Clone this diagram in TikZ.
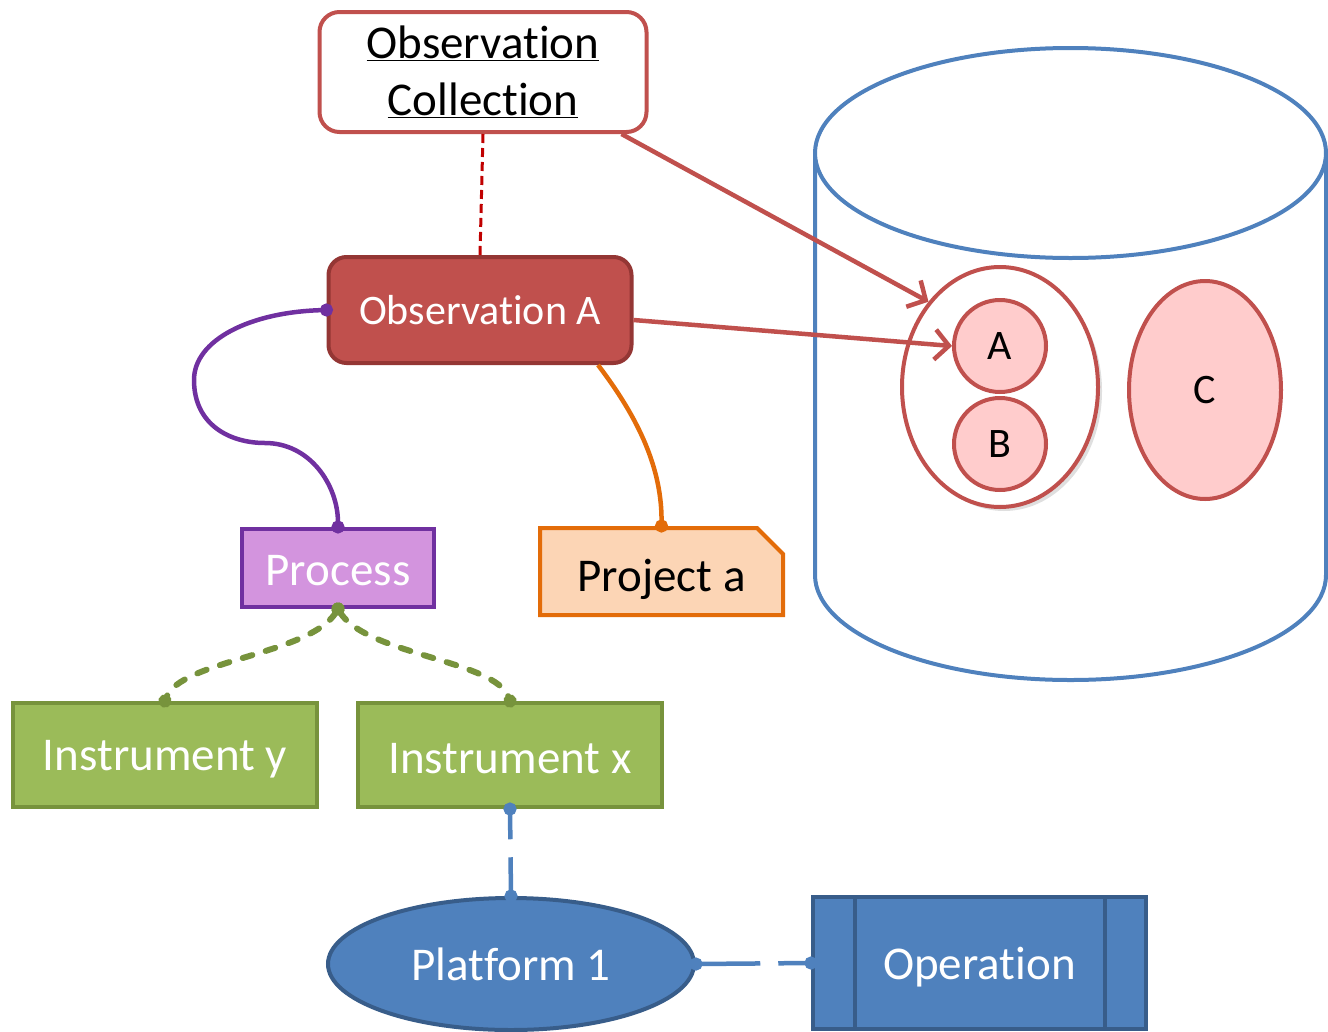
\documentclass[tikz,border=0pt]{standalone}
\usepackage{fontspec}
\setmainfont[Ligatures=NoCommon]{Carlito}
\usetikzlibrary{arrows.meta, shapes.geometric, shapes.misc, shadows}
\definecolor{obs_red}{HTML}{C0504D}
\definecolor{obs_dark}{HTML}{943634}
\definecolor{link_red}{HTML}{C00000}
\definecolor{set_pink}{HTML}{FFCCCC}
\definecolor{store_blue}{HTML}{4F81BD}
\definecolor{plat_dark}{HTML}{385D8A}
\definecolor{proc_purple}{HTML}{7030A0}
\definecolor{proc_fill}{HTML}{D394DE}
\definecolor{proj_orange}{HTML}{E36C09}
\definecolor{proj_fill}{HTML}{FCD5B5}
\definecolor{inst_green}{HTML}{9BBB59}
\definecolor{inst_dark}{HTML}{77933C}
\newcommand{\diagfont}{\fontsize{47}{57}\selectfont}
\newcommand{\memberfont}{\fontsize{42}{50}\selectfont}
\newcommand{\lowered}[2]{\raisebox{-#1}[\height][\depth]{#2}}
\tikzset{
  box/.style={draw, line width=4pt, inner sep=0pt, font=\diagfont},
  member/.style={circle, draw=obs_red, line width=4pt, fill=set_pink, minimum size=92pt, inner sep=0pt, font=\memberfont},
  dotends/.style={{Circle[length=13pt]}-{Circle[length=13pt]}, shorten <=-6.5pt, shorten >=-6.5pt},
  to_set/.style={obs_red, line width=4.5pt, -{Straight Barb[length=14pt, width=30pt]}},
  inst/.style={box, draw=inst_dark, fill=inst_green, text=white, minimum width=304pt, minimum height=104pt}
}

\begin{document}
\begin{tikzpicture}[x=1pt, y=-1pt]
                \useasboundingbox (0,0) rectangle (1328,1031);
                % data store
                \draw[store_blue, line width=4pt] (815,153) -- (815,575) arc[start angle=180, end angle=0, x radius=255.5, y radius=105] -- (1326,153);
                \draw[store_blue, line width=4pt, fill=white] (1070.5,153) ellipse [x radius=255.5, y radius=105];
                \node[ellipse, draw=obs_red, line width=4pt, fill=white, minimum width=196pt, minimum height=240pt, drop shadow={shadow xshift=4pt, shadow yshift=-4pt, opacity=0.25}] (grp) at (1000,387) {};
                \node[member] (memA) at (1000,346) {A};
                \node[member] (memB) at (1000,444) {B};
                \node[member, ellipse, minimum width=152pt, minimum height=218pt] (memC) at (1205,390) {C};
                % observations
                \node[box, rounded corners=20pt, draw=obs_red, fill=white, minimum width=327pt, minimum height=120pt, align=center] (coll) at (483,72) {\underline{Observation}\\\underline{Collection}};
                \node[box, rounded corners=18pt, draw=obs_dark, fill=obs_red, text=white, font=\memberfont, minimum width=303pt, minimum height=106pt] (obsA) at (480,310) {Observation A};
                \node[box, draw=proc_purple, fill=proc_fill, text=white, minimum width=192pt, minimum height=78pt] (proc) at (338,568) {\lowered{3pt}{Process}};
                \node[box, chamfered rectangle, chamfered rectangle corners=north east, chamfered rectangle sep=13pt, draw=proj_orange, fill=proj_fill, minimum width=243pt, minimum height=87pt] (proj) at (661.5,571.5) {\lowered{8pt}{Project a}};
                \node[inst] (instY) at (165,755) {\lowered{4pt}{Instrument y}};
                \node[inst] (instX) at (510,755) {\lowered{4pt}{Instrument x}};
                \node[box, ellipse, draw=plat_dark, fill=store_blue, text=white, minimum width=366pt, minimum height=132pt] (plat) at (511,964) {Platform 1};
                \node[box, draw=plat_dark, fill=store_blue, text=white, minimum width=333pt, minimum height=132pt,
                  path picture={
                    \draw[plat_dark, line width=4pt] ([xshift=42pt]path picture bounding box.north west) -- ([xshift=42pt]path picture bounding box.south west);
                    \draw[plat_dark, line width=4pt] ([xshift=-41pt]path picture bounding box.north east) -- ([xshift=-41pt]path picture bounding box.south east);
                  }] (oper) at (979.5,963) {\lowered{4pt}{Operation}};
                % links
                \draw[link_red, line width=3pt, dash pattern=on 9pt off 5pt] (coll.south) -- (obsA.north);
                \draw[to_set] ([xshift=-27pt]coll.south east) -- (grp.130);
                \draw[to_set] ([yshift=-10pt]obsA.east) -- (memA.west);
                \draw[proc_purple, line width=4.5pt, dotends] (obsA.west) .. controls (250,312) and (194,340) .. (194,380) .. controls (194,425) and (230,443) .. (265,443) .. controls (310,443) and (338,485) .. (proc.north);
                \draw[proj_orange, line width=4.5pt, -{Circle[length=13pt]}, shorten >=-6.5pt] ([xshift=118pt]obsA.south) .. controls (640,420) and (662,470) .. (proj.north);
                \draw[inst_dark, line width=6pt, dash pattern=on 10pt off 14pt, line cap=round, dotends] (proc.south) .. controls (310,655) and (180,660) .. (instY.north);
                \draw[inst_dark, line width=6pt, dash pattern=on 10pt off 14pt, line cap=round, dotends] (proc.south) .. controls (366,655) and (496,660) .. (instX.north);
                \draw[store_blue, line width=4.5pt, dash pattern=on 60pt off 18pt, dash phase=34pt, dotends] (instX.south) -- (plat.north);
                \draw[store_blue, line width=4.5pt, dash pattern=on 60pt off 18pt, dotends] (plat.east) -- (oper.west);
            \end{tikzpicture}
\end{document}
